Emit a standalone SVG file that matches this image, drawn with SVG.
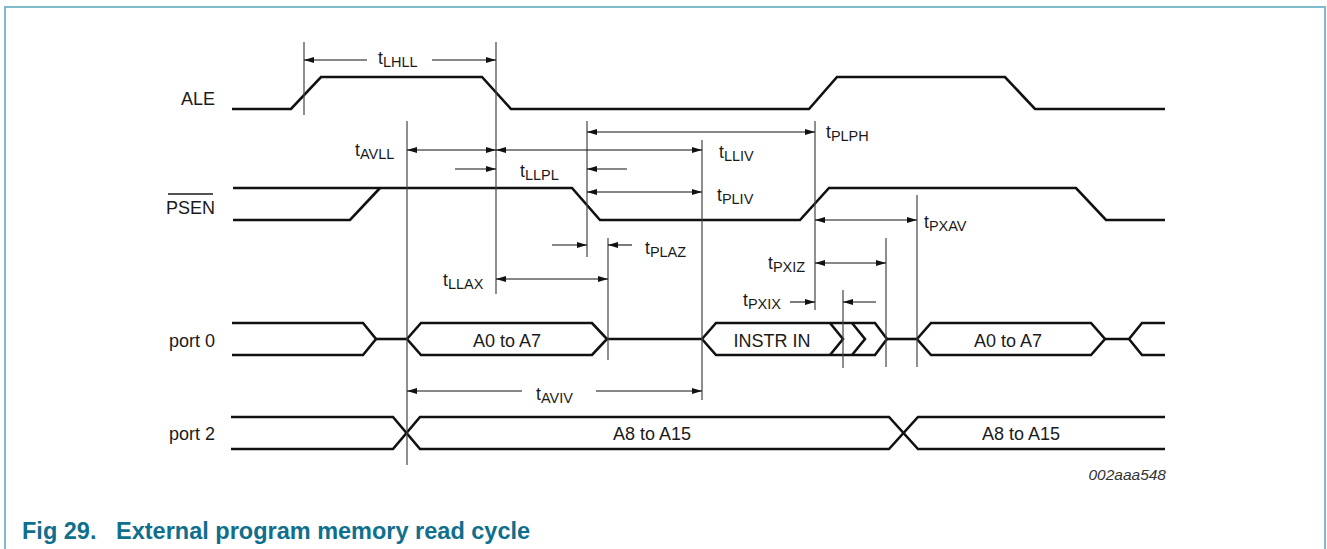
<svg xmlns="http://www.w3.org/2000/svg" width="1327" height="549" viewBox="0 0 1327 549">
<defs>
<marker id="ah" viewBox="0 0 10 6" refX="10" refY="3" markerWidth="10" markerHeight="6" markerUnits="userSpaceOnUse" orient="auto-start-reverse">
<path d="M0,0 L10,3 L0,6 z" fill="#111"/>
</marker>
<style>
.sig{fill:none;stroke:#111;stroke-width:2.6;stroke-linejoin:miter}
.ref{fill:none;stroke:#444;stroke-width:1.2}
.arr{fill:none;stroke:#111;stroke-width:1.1}
.dbl{marker-start:url(#ah);marker-end:url(#ah)}
.one{marker-end:url(#ah)}
.lbl{font-family:"Liberation Sans",Arial,sans-serif;font-size:18px;fill:#1a1a1a}
.t{font-family:"Liberation Sans",Arial,sans-serif;font-size:17.5px;fill:#1a1a1a}
.sub{font-size:14.5px}
.bus{font-family:"Liberation Sans",Arial,sans-serif;font-size:18px;fill:#1a1a1a;text-anchor:middle}
</style>
</defs>
<rect x="0" y="0" width="1327" height="549" fill="#fff"/>
<path d="M5,549 V7 H1325 V549" fill="none" stroke="#7fbccb" stroke-width="2"/>

<g id="labels">
<text class="lbl" x="215" y="105" text-anchor="end">ALE</text>
<text class="lbl" x="215" y="214" text-anchor="end">PSEN</text>
<line x1="168" y1="194" x2="213" y2="194" stroke="#1a1a1a" stroke-width="1.3"/>
<text class="lbl" x="215" y="347" text-anchor="end">port 0</text>
<text class="lbl" x="215" y="440" text-anchor="end">port 2</text>
</g>

<g id="ale">
<path class="sig" d="M232,109 H291 L321,77 H482 L511,109 H809 L837,77 H1005 L1035,109 H1165"/>
</g>

<g id="psen">
<path class="sig" d="M233,188 H572 L600,220 H800 L829,188 H1076 L1106,220 H1165"/>
<path class="sig" d="M233,220 H350 L380,188"/>
</g>

<g id="port0">
<path class="sig" d="M232,323 H363 L376,339 L363,355 H232"/>
<path class="sig" d="M376,339 H407"/>
<path class="sig" d="M407,339 L421,323 H592 L607,339 L592,355 H421 Z"/>
<path class="sig" d="M607,339 H702"/>
<path class="sig" d="M702,339 L716,323 H875 L887,339 L875,355 H716 Z"/>
<path class="sig" d="M830,323 L843,339 L830,355 M852,323 L865,339 L852,355"/>
<path class="sig" d="M887,339 H917"/>
<path class="sig" d="M917,339 L931,323 H1091 L1105,339 L1091,355 H931 Z"/>
<path class="sig" d="M1105,339 H1129 L1142,323 H1165 M1129,339 L1142,355 H1165"/>
<text class="bus" x="507" y="347">A0 to A7</text>
<text class="bus" x="772" y="347">INSTR IN</text>
<text class="bus" x="1008" y="347">A0 to A7</text>
</g>

<g id="port2">
<path class="sig" d="M231,417 H393 L420,449 H889 L918,417 H1165"/>
<path class="sig" d="M231,449 H393 L420,417 H889 L918,449 H1165"/>
<text class="bus" x="652" y="440">A8 to A15</text>
<text class="bus" x="1021" y="440">A8 to A15</text>
</g>

<g id="connectors">
<line class="ref" x1="304" y1="42" x2="304" y2="115"/>
<line class="ref" x1="496" y1="42" x2="496" y2="294"/>
<line class="ref" x1="407" y1="121" x2="407" y2="465"/>
<line class="ref" x1="702" y1="140" x2="702" y2="400"/>
<line class="ref" x1="587" y1="121" x2="587" y2="257"/>
<line class="ref" x1="815" y1="121" x2="815" y2="310"/>
<line class="ref" x1="608" y1="238" x2="608" y2="360"/>
<line class="ref" x1="886" y1="238" x2="886" y2="367"/>
<line class="ref" x1="843" y1="290" x2="843" y2="368"/>
<line class="ref" x1="917" y1="195" x2="917" y2="367"/>

<path class="arr one" d="M367,60 H304"/>
<path class="arr one" d="M432,60 H496"/>
<path class="arr dbl" d="M407,150 H496"/>
<path class="arr dbl" d="M496,150 H702"/>
<path class="arr dbl" d="M587,132 H815"/>
<path class="arr one" d="M455,169 H496"/>
<path class="arr one" d="M627,169 H587"/>
<path class="arr dbl" d="M587,192 H702"/>
<path class="arr dbl" d="M815,220 H917"/>
<path class="arr one" d="M552,245 H587"/>
<path class="arr one" d="M632,245 H608"/>
<path class="arr dbl" d="M815,263 H886"/>
<path class="arr dbl" d="M496,279 H608"/>
<path class="arr one" d="M790,302 H815"/>
<path class="arr one" d="M876,302 H843"/>
<path class="arr one" d="M522,391 H407"/>
<path class="arr one" d="M596,391 H702"/>
</g>

<g id="timing-labels">
<text class="t" x="378" y="64">t<tspan class="sub" dy="3">LHLL</tspan></text>
<text class="t" x="355" y="156">t<tspan class="sub" dy="3">AVLL</tspan></text>
<text class="t" x="719" y="158">t<tspan class="sub" dy="3">LLIV</tspan></text>
<text class="t" x="826" y="138">t<tspan class="sub" dy="3">PLPH</tspan></text>
<text class="t" x="520" y="177">t<tspan class="sub" dy="3">LLPL</tspan></text>
<text class="t" x="717" y="201">t<tspan class="sub" dy="3">PLIV</tspan></text>
<text class="t" x="924" y="228">t<tspan class="sub" dy="3">PXAV</tspan></text>
<text class="t" x="645" y="254">t<tspan class="sub" dy="3">PLAZ</tspan></text>
<text class="t" x="768" y="269">t<tspan class="sub" dy="3">PXIZ</tspan></text>
<text class="t" x="743" y="306">t<tspan class="sub" dy="3">PXIX</tspan></text>
<text class="t" x="443" y="286">t<tspan class="sub" dy="3">LLAX</tspan></text>
<text class="t" x="536" y="400">t<tspan class="sub" dy="3">AVIV</tspan></text>
</g>

<text x="1166" y="480" text-anchor="end" font-family="'Liberation Sans',Arial,sans-serif" font-size="15.5" font-style="italic" fill="#333">002aaa548</text>
<text x="22" y="539" font-family="'Liberation Sans',Arial,sans-serif" font-size="23.5" font-weight="bold" fill="#0f6f8c" xml:space="preserve">Fig 29.   External program memory read cycle</text>
</svg>
